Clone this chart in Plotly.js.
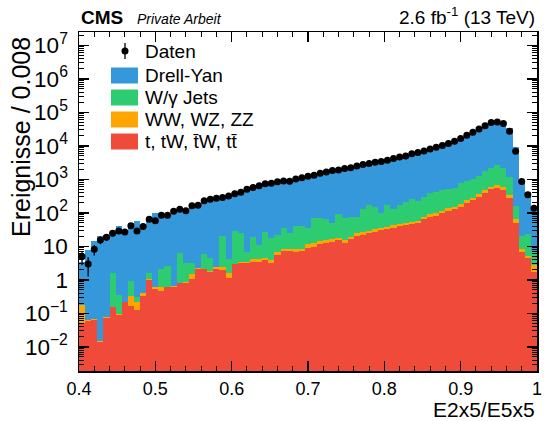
<!DOCTYPE html>
<html>
<head>
<meta charset="utf-8">
<script src="https://cdn.plot.ly/plotly-3.0.1.min.js"></script>
<style>html,body{margin:0;padding:0;background:#fff;}#chart{width:544px;height:421px;}</style>
</head>
<body>
<div id="chart"></div>
<script>
// Bin centres (bin width 0.008)
const binCenters = [0.404,0.412,0.420,0.428,0.436,0.444,0.452,0.460,0.468,0.476,
0.484,0.492,0.500,0.508,0.516,0.524,0.532,0.540,0.548,0.556,
0.564,0.572,0.580,0.588,0.596,0.604,0.612,0.620,0.628,0.636,
0.644,0.652,0.660,0.668,0.676,0.684,0.692,0.700,0.708,0.716,
0.724,0.732,0.740,0.748,0.756,0.764,0.772,0.780,0.788,0.796,
0.804,0.812,0.820,0.828,0.836,0.844,0.852,0.860,0.868,0.876,
0.884,0.892,0.900,0.908,0.916,0.924,0.932,0.940,0.948,0.956,
0.964,0.972,0.980,0.988,0.996];
const binWidth = 0.008;

// t, tW, tbarW, ttbar
const topQuark = [0.05,0.06,0.065,0.014,0.075,0.15,0.09,0.22,0.17,0.13,
0.32,1.0,0.53,0.48,0.6,0.63,0.8,0.81,1.05,2.1,
2.1,1.77,2.1,2.0,1.12,2.9,3.15,3.15,3.4,3.4,
3.95,3.15,5.6,7.3,7.3,7.0,7.5,9.2,9.9,11.6,
12.4,13.6,15.5,12.4,16.4,20.6,22,25,27.7,31,
33,36.5,41,44,47,51,65,78,83,98,
115,129,147,203,245,305,403,525,545,490,
270,49,7,4.4,1.77];
// WW, WZ, ZZ
const diboson = [0.13,0.002,0.002,0.0005,0.003,0.005,0.003,0.005,0.15,0.095,
0.08,0.03,0.1,0.12,0.02,0.02,0.02,0.03,0.4,0.1,
0.05,0.08,0.3,0.4,0.53,0.1,0.25,0.25,0.8,0.8,
0.65,0.65,1.4,1.1,1.1,1.2,1.1,2.4,2.6,2.4,
2.6,2.8,2.8,3.2,3.2,4.2,4.5,4,5.6,5,
6,7.5,7,7,7,8,13,13,14,17,
23,18,35,42,40,65,87,85,125,100,
65,16,1.4,0.6,0.93];
// W/gamma + jets
const wJets = [0,0,0,0,0,1.42,0.27,0,0.61,0.075,
0,0.55,0,1.5,1.98,0,5.7,2.3,1.65,0,
3.85,2.55,0.1,18.2,2.65,26,21.4,3.6,14.6,6.8,
23.1,13.7,15,26.6,17.4,32.8,33.4,24.4,56.5,58,
51,32.6,72.7,53.4,58.4,53.2,102.5,143,113.7,62,
133,85,124,166,202,167,217,312,323,360,
372,398,588,675,755,910,1340,1530,1930,1550,
835,97,12.2,18.6,4.3];
// Drell-Yan
const drellYan = [3.3,7.8,14.8,20.6,21.9,26.1,40.6,30.8,49,57.7,
41.6,76.4,97.4,95.9,89.4,111.3,122.5,115,159,168,
223,252,272,265,318,341,389,473,551,639,
707,752,828,865,854,994,1083,1214,1261,1458,
1604,1781,1819,2031,2162,2442,2641,2828,3103,3302,
3558,4071,4508,4783,5544,6074,6805,7697,8680,9725,
11190,13255,15730,19880,24560,30720,38170,47860,49400,44360,
32830,9338,939,406,147];
// Data
const daten = [5,3,8.2,15.6,18.8,24.7,29,27,41,29,
39,65,58,85,85,112,129,115,162,170,
229,256,275,286,322,370,414,510,570,650,
735,770,850,900,880,1035,1125,1250,1330,1530,
1670,1830,1910,2100,2240,2520,2770,3000,3250,3400,
3730,4200,4680,5000,5800,6300,7100,8100,9100,10200,
11700,13800,16500,20800,25600,32000,40000,50000,52000,46500,
27500,6900,860,350,138];

const labels = ["Daten","Drell-Yan","W/\u03b3 Jets","WW, WZ, ZZ","t, tW, t\u0304W, tt\u0304"];
const colors = {dy:"#3498db", wj:"#2ecc71", vv:"#ffa500", top:"#ef4a3a"};

const F = "Liberation Sans, Arial, Helvetica, sans-serif";

function barTrace(y, name, color){
  return {type:"bar", x:binCenters, y:y, width:binWidth, name:name,
    marker:{color:color, line:{width:0}}, hoverinfo:"skip", showlegend:false};
}
const traces = [
  barTrace(topQuark, labels[4], colors.top),
  barTrace(diboson, labels[3], colors.vv),
  barTrace(wJets, labels[2], colors.wj),
  barTrace(drellYan, labels[1], colors.dy),
  {type:"scatter", mode:"markers", x:binCenters, y:daten, name:labels[0], showlegend:false,
   marker:{color:"black", size:7},
   error_y:{type:"data", array:daten.map(Math.sqrt), color:"black", thickness:1.3, width:0},
   cliponaxis:true}
];

// plot-area pixel geometry helpers for legend placement
const L=79, T=32, W=458, H=339;
const px = x => (x-L)/W;
const py = y => (T+H-y)/H;

const shapes = [];
const annotations = [];
// legend
const rows = [51, 75.5, 97.5, 119.5, 141.5];
const patchColors = [null, colors.dy, colors.wj, colors.vv, colors.top];
rows.forEach((r,i)=>{
  if(i===0){
    shapes.push({type:"line", xref:"paper", yref:"paper", x0:px(125), x1:px(125), y0:py(r-8), y1:py(r+8), line:{color:"black", width:1.3}});
    shapes.push({type:"circle", xref:"paper", yref:"paper", xsizemode:"pixel", ysizemode:"pixel",
      xanchor:px(125), yanchor:py(r), x0:-3.5, x1:3.5, y0:-3.5, y1:3.5, fillcolor:"black", line:{width:0}});
  } else {
    shapes.push({type:"rect", xref:"paper", yref:"paper", x0:px(111), x1:px(138), y0:py(r+8), y1:py(r-8),
      fillcolor:patchColors[i], line:{width:0}});
  }
  annotations.push({xref:"paper", yref:"paper", x:px(143), y:py(r), xanchor:"left", yanchor:"middle",
    text:labels[i], showarrow:false, font:{family:F, size:19, color:"black"}});
});
// header
annotations.push({xref:"paper", yref:"paper", x:0, y:1, xanchor:"left", yanchor:"bottom", yshift:2,
  text:"<b>CMS</b>", showarrow:false, font:{family:F, size:19, color:"black"}});
annotations.push({xref:"paper", yref:"paper", x:px(135), y:1, xanchor:"left", yanchor:"bottom", yshift:3,
  text:"<i>Private Arbeit</i>", showarrow:false, font:{family:F, size:14, color:"black"}});
annotations.push({xref:"paper", yref:"paper", x:1, y:1, xanchor:"right", yanchor:"bottom", yshift:2,
  text:"2.6 fb<sup>-1</sup> (13 TeV)", showarrow:false, font:{family:F, size:19, color:"black"}});
// axis titles
annotations.push({xref:"paper", yref:"paper", x:1, y:py(409), xanchor:"right", yanchor:"middle",
  text:"E2x5/E5x5", showarrow:false, font:{family:F, size:21, color:"black"}});
annotations.push({xref:"paper", yref:"paper", x:px(21), y:py(35), xanchor:"center", yanchor:"top",
  text:"Ereignisse / 0.008", textangle:-90, showarrow:false, font:{family:F, size:25, color:"black"}});

const layout = {
  width:544, height:421,
  margin:{l:L, r:7, t:T, b:50},
  paper_bgcolor:"white", plot_bgcolor:"white",
  barmode:"stack", bargap:0,
  showlegend:false,
  font:{family:F, color:"black"},
  xaxis:{range:[0.4,1.0], tick0:0.4, dtick:0.1, ticks:"inside", ticklen:10, tickwidth:1.3, tickcolor:"black",
    showline:true, linecolor:"black", linewidth:1.5, mirror:"ticks", showgrid:false, zeroline:false,
    tickfont:{family:F, size:18, color:"black"}, ticklabelstandoff:1,
    minor:{ticks:"inside", ticklen:5, tickwidth:1, tickcolor:"black", dtick:0.02, tick0:0.4, showgrid:false}},
  yaxis:{type:"log", range:[-2.72, 7.40], dtick:1, exponentformat:"power", ticks:"inside", ticklen:10, tickwidth:1.3, tickcolor:"black",
    showline:true, linecolor:"black", linewidth:1.5, mirror:"ticks", showgrid:false, zeroline:false,
    tickfont:{family:F, size:18, color:"black"}, ticklabelstandoff:6,
    minor:{ticks:"inside", ticklen:5, tickwidth:1, tickcolor:"black", dtick:"D1", showgrid:false}},
  shapes:shapes,
  annotations:annotations
};

Plotly.newPlot("chart", traces, layout, {staticPlot:true, displayModeBar:false});
</script>
</body>
</html>
